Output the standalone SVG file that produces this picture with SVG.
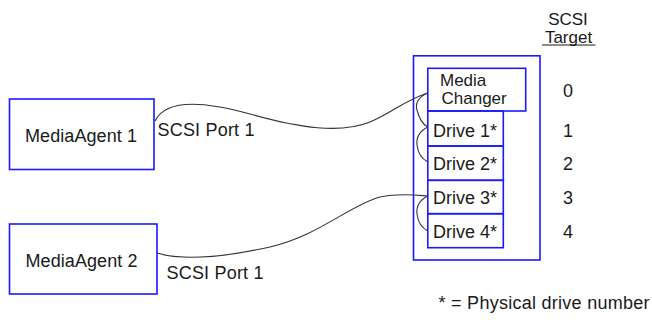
<svg xmlns="http://www.w3.org/2000/svg" width="652" height="322" viewBox="0 0 652 322">
<style>
.box{fill:none;stroke:#1a1aff;stroke-width:1.6}
.t{font-family:"Liberation Sans",Arial,sans-serif;font-size:18px;fill:#1a1a1a}
.s{font-size:17px}
.c{text-anchor:middle}
.w{fill:none;stroke:#333;stroke-width:1.1}
</style>
<rect width="652" height="322" fill="#fff"/>
<g id="ma1"><rect class="box" x="9.5" y="99" width="144.5" height="70.5"/><text class="t" x="25" y="142" textLength="112">MediaAgent 1</text></g>
<g id="ma2"><rect class="box" x="9.5" y="224" width="147.5" height="70"/><text class="t" x="25.5" y="267" textLength="112">MediaAgent 2</text></g>
<g id="library"><rect class="box" x="413.5" y="55.8" width="126.5" height="204.2"/></g>
<g id="changer"><rect class="box" x="427.8" y="68.3" width="97.9" height="42.7"/><text class="t s" x="440" y="86">Media</text><text class="t s" x="441.5" y="103.5">Changer</text></g>
<g id="drive1"><rect class="box" x="427.8" y="111" width="75.5" height="35"/><text class="t" x="433" y="137">Drive 1*</text></g>
<g id="drive2"><rect class="box" x="427.8" y="146" width="75.5" height="34.3"/><text class="t" x="433" y="170">Drive 2*</text></g>
<g id="drive3"><rect class="box" x="427.8" y="180.3" width="75.5" height="33.4"/><text class="t" x="433" y="203.5">Drive 3*</text></g>
<g id="drive4"><rect class="box" x="427.8" y="213.7" width="75.5" height="34"/><text class="t" x="433" y="237.5">Drive 4*</text></g>
<g id="targets">
<text class="t s c" x="568" y="24.5">SCSI</text>
<text class="t s c" x="568.5" y="42.5">Target</text>
<line x1="542" y1="45" x2="595.5" y2="45" stroke="#1a1a1a" stroke-width="1.2"/>
<text class="t c" x="568" y="96.5">0</text>
<text class="t c" x="568" y="137">1</text>
<text class="t c" x="568" y="170">2</text>
<text class="t c" x="568" y="203.5">3</text>
<text class="t c" x="568" y="237.5">4</text>
</g>
<g id="connectors">
<path class="w" d="M155,121 C165,100 200,100 250,114 C300,128 340,134 370,122 C392,113 405,100 427.8,93"/>
<path class="w" d="M427.8,93 C418,97 415,104 417,110 C419,118 422,124 427.8,127"/>
<path class="w" d="M427.8,127 C420,131 416,137 417,145 C418,153 422,159 427.8,162"/>
<path class="w" d="M157,253 C180,260 220,258 270,247 C320,235 350,205 380,197 C400,193 415,195 427.8,196"/>
<path class="w" d="M427.8,196 C420,200 416,206 417,214 C418,222 422,228 427.8,231"/>
</g>
<g id="labels">
<text class="t" x="157.5" y="136" textLength="97">SCSI Port 1</text>
<text class="t" x="166.5" y="279" textLength="97">SCSI Port 1</text>
<text class="t" x="438.5" y="309" textLength="211">* = Physical drive number</text>
</g>
</svg>
